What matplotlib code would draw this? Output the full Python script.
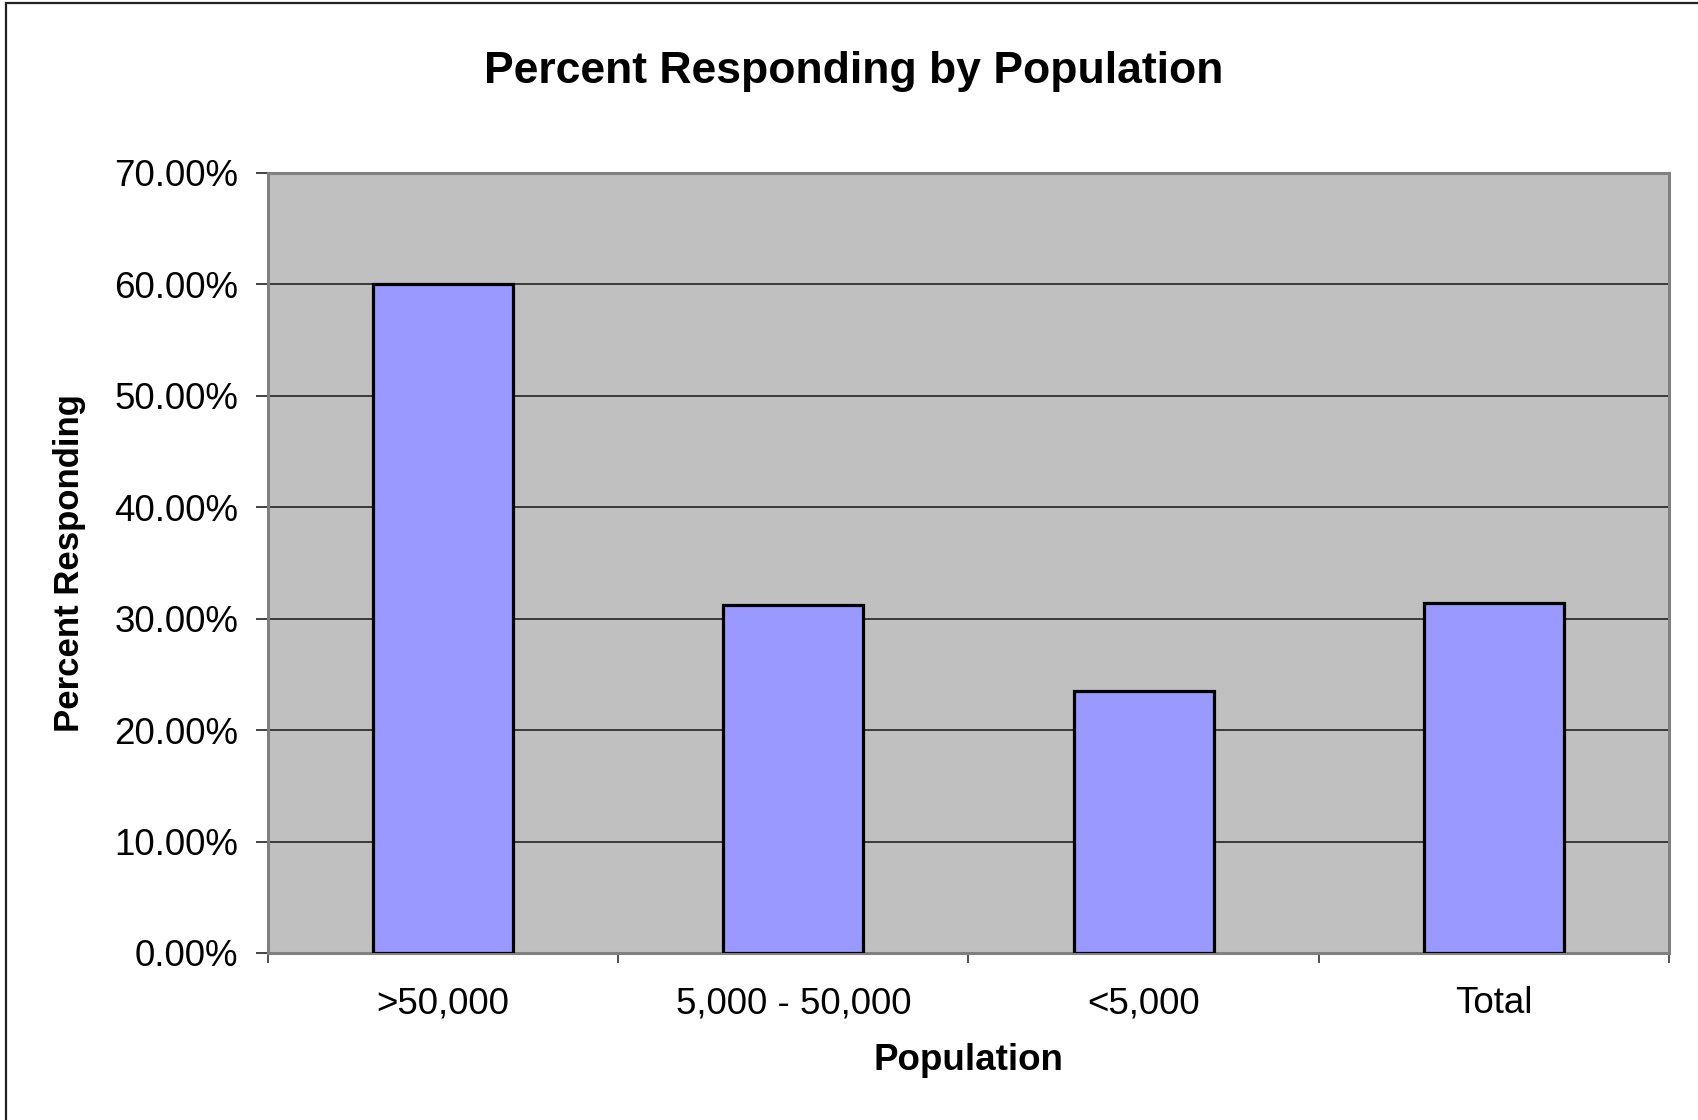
import matplotlib
matplotlib.use("Agg")
import matplotlib.pyplot as plt
from matplotlib.patches import Rectangle
from matplotlib.ticker import FixedLocator, PercentFormatter

plt.rcParams['font.family'] = ['Liberation Sans', 'DejaVu Sans']

categories = [">50,000", "5,000 - 50,000", "<5,000", "Total"]
percent_responding = [60.0, 31.2, 23.5, 31.45]
y_ticks = [0, 10, 20, 30, 40, 50, 60, 70]

W, H, DPI = 1699, 1120, 100
fig = plt.figure(figsize=(W / DPI, H / DPI), dpi=DPI, facecolor="white")

# outer chart-area frame
fig.patches.append(Rectangle((6 / W, -0.1), 1.2, 1 - 3 / H + 0.1,
                             transform=fig.transFigure, fill=False,
                             edgecolor="#222222", linewidth=1.6, zorder=0))

left, right, top, bottom = 268, 1669, 173, 953
ax = fig.add_axes([left / W, 1 - bottom / H, (right - left) / W, (bottom - top) / H])
ax.set_facecolor("#C0C0C0")

x = list(range(len(categories)))
ax.bar(x, percent_responding, width=0.4, color="#9999FF",
       edgecolor="black", linewidth=2.3, zorder=3)

ax.set_xlim(-0.5, len(categories) - 0.5)
ax.set_ylim(0, 70)

ax.yaxis.set_major_locator(FixedLocator(y_ticks))
ax.yaxis.set_major_formatter(PercentFormatter(decimals=2))
ax.grid(axis="y", color="#222222", linewidth=1.2, zorder=1)
ax.set_axisbelow(True)

# category separators as major ticks, labels on minor ticks at centers
ax.xaxis.set_major_locator(FixedLocator([i + 0.5 for i in range(-1, len(categories))]))
ax.xaxis.set_minor_locator(FixedLocator(x))
ax.set_xticklabels([], minor=False)
ax.set_xticklabels(categories, minor=True)
ax.tick_params(axis="x", which="major", length=7.5, width=1.2, color="#333333", direction="out")
ax.tick_params(axis="x", which="minor", length=0, pad=24, labelsize=26.5)
ax.tick_params(axis="y", length=8.5, width=1.2, color="#222222", pad=13, labelsize=26.5)

for s in ax.spines.values():
    s.set_color("#808080")
    s.set_linewidth(2.2)

fig.text(968 / W, 1 - 1060 / H, "Population",
         fontsize=26.5, fontweight="bold", ha="center", va="center")
fig.text(70 / W, 1 - 563 / H, "Percent Responding", rotation=90,
         fontsize=25, fontweight="bold", ha="center", va="center")
fig.text(854 / W, 1 - 71 / H, "Percent Responding by Population",
         fontsize=32, fontweight="bold", ha="center", va="center")

fig.savefig("out.png", dpi=DPI, facecolor="white")
